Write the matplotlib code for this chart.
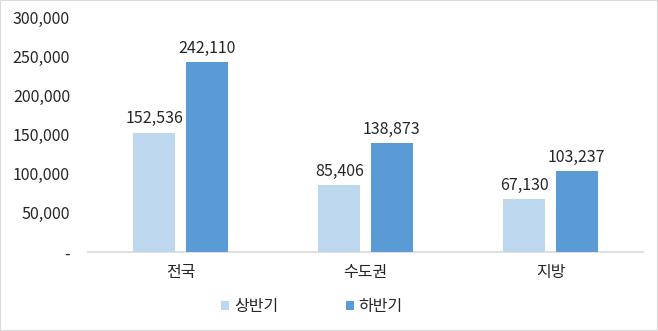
import matplotlib
matplotlib.use("Agg")
import matplotlib.pyplot as plt
import numpy as np
from matplotlib.ticker import FuncFormatter

plt.rcParams['font.family'] = ['Noto Sans CJK KR', 'DejaVu Sans']

categories = ['전국', '수도권', '지방']
series_names = ['상반기', '하반기']
first_half = [152536, 85406, 67130]
second_half = [242110, 138873, 103237]
colors = ['#BDD7EE', '#5B9BD5']

fig = plt.figure(figsize=(6.58, 3.31), dpi=100)
ax = fig.add_axes([88/658, 79/331, 555/658, 235/331])

x = np.arange(len(categories))
w = 0.225
off = 0.142
b1 = ax.bar(x - off, first_half, w, color=colors[0], label=series_names[0], zorder=3)
b2 = ax.bar(x + off, second_half, w, color=colors[1], label=series_names[1], zorder=3)

fs = 11.5
for bars, vals in ((b1, first_half), (b2, second_half)):
    for r, v in zip(bars, vals):
        ax.text(r.get_x() + r.get_width()/2, v + 7000, f'{v:,}', ha='center', va='bottom',
                fontsize=fs, color='#262626', zorder=4)

ax.set_xlim(-0.5, 2.5)
ax.set_ylim(0, 300000)
ax.set_yticks(np.arange(0, 300001, 50000))
ax.yaxis.set_major_formatter(FuncFormatter(lambda v, p: '-' if v == 0 else f'{int(v):,}'))
ax.set_xticks(x)
ax.set_xticklabels(categories)
ax.tick_params(axis='both', length=0, labelsize=fs, labelcolor='#262626')
ax.tick_params(axis='y', pad=13)
ax.tick_params(axis='x', pad=9)
for s in ['top', 'right', 'left']:
    ax.spines[s].set_visible(False)
ax.spines['bottom'].set_color('#D9D9D9')
ax.spines['bottom'].set_linewidth(1.2)

leg = fig.legend(loc='center', bbox_to_anchor=(312/658, 1 - 307/331), ncol=2, frameon=False,
                 fontsize=fs, handlelength=0.5, handleheight=0.5, handletextpad=0.3,
                 columnspacing=4.2)
for t in leg.get_texts():
    t.set_color('#262626')

fig.patches.append(plt.Rectangle((0, 0), 1, 1, transform=fig.transFigure, fill=False,
                                 edgecolor='#D9D9D9', linewidth=1.5))

fig.savefig('out.png', dpi=100)
